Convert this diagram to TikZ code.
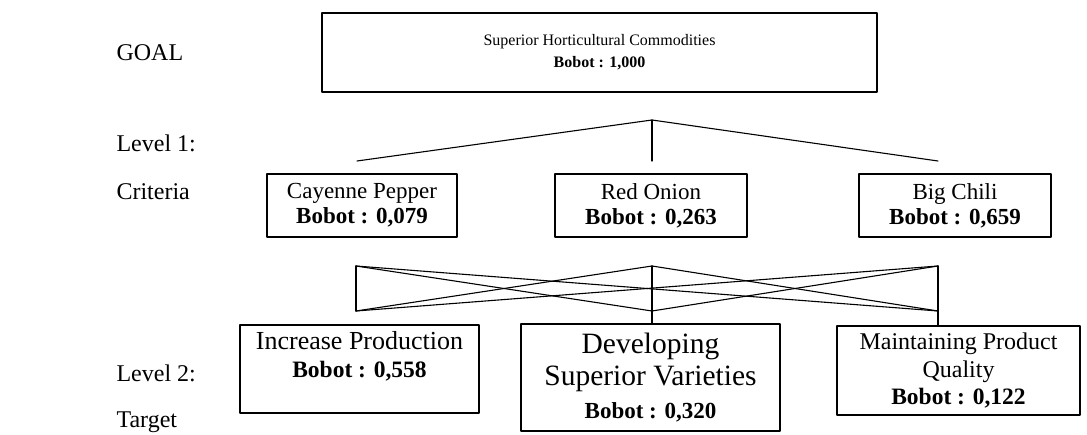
\documentclass[tikz,border=0pt]{standalone}
\usepackage{fontspec}
\setmainfont{Liberation Serif}
\usetikzlibrary{positioning, calc}
\tikzset{every path/.style={line cap=round, line join=round}}

\begin{document}
\begin{tikzpicture}[x=1pt, y=-1pt,
    box/.style={draw, line width=1.3pt, inner sep=0pt, align=center},
    lvl/.style={anchor=base west, font=\fontsize{24}{28}\selectfont},
    link/.style={line width=1.1pt}]
    \useasboundingbox (0,0) rectangle (1087,435);
    % level labels
    \node[lvl] (goal) at (113,61) {GOAL};
    \node[lvl] (lvlone) at (113,152) {Level 1:};
    \node[lvl] (crit) at (113,200) {Criteria};
    \node[lvl] (lvltwo) at (113,382) {Level 2:};
    \node[lvl] (target) at (113,428) {Target};
    % goal
    \node[box, minimum width=555pt, minimum height=79pt,
        font=\fontsize{16}{22}\selectfont] (sup) at (599.5,52.5)
        {Superior Horticultural Commodities\\\textbf{Bobot : 1,000}};
    % criteria
    \node[box, minimum width=190pt, minimum height=63pt,
        font=\fontsize{23}{25}\selectfont] (cay) at (362,205.5)
        {Cayenne Pepper\\\textbf{Bobot : 0,079}};
    \node[box, minimum width=192pt, minimum height=63pt,
        font=\fontsize{23}{25}\selectfont] (onion) at (651,205.5)
        {Red Onion\\\textbf{Bobot : 0,263}};
    \node[box, minimum width=192pt, minimum height=63pt,
        font=\fontsize{23}{25}\selectfont] (chili) at (955,205.5)
        {Big Chili\\\textbf{Bobot : 0,659}};
    % targets
    \node[box, minimum width=239pt, minimum height=88pt,
        font=\fontsize{26}{28}\selectfont] (incr) at (359.5,369)
        {Increase Production\\{\fontsize{23.5}{28}\selectfont\bfseries Bobot : 0,558}\\\phantom{B}};
    \node[box, minimum width=259pt, minimum height=107pt,
        font=\fontsize{29.5}{32.5}\selectfont] (dev) at (650.5,377.5)
        {Developing\\Superior Varieties\\{\fontsize{23}{28}\selectfont\bfseries Bobot : 0,320}};
    \node[box, minimum width=243pt, minimum height=89pt,
        font=\fontsize{24}{27.5}\selectfont] (maint) at (958.5,370.5)
        {Maintaining Product\\Quality\\{\fontsize{23.5}{28}\selectfont\bfseries Bobot : 0,122}};

    % goal to criteria
    \coordinate (apex) at (652,120);
    \coordinate (c1) at (357,161);
    \coordinate (c2) at (652,161);
    \coordinate (c3) at (938,161);
    \draw[link] (c1) -- (apex) -- (c3);
    \draw[link] (apex) -- (c2);

    % criteria to targets
    \coordinate (t1) at (356,266);
    \coordinate (t2) at (652,266);
    \coordinate (t3) at (938,266);
    \coordinate (b1) at (356,311);
    \coordinate (b2) at (652,311);
    \coordinate (b3) at (938,311);
    \draw[link] (t1) -- (b1);
    \draw[link] (t2) -- (t2 |- dev.north);
    \draw[link] (t3) -- (t3 |- maint.north);
    \foreach \s/\e in {t1/b2, t1/b3, t2/b1, t2/b3, t3/b1, t3/b2}
        \draw[link] (\s) -- (\e);
\end{tikzpicture}
\end{document}
